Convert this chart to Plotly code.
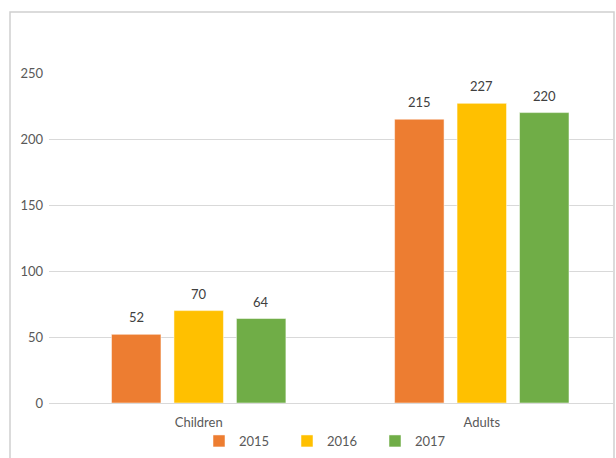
import plotly.graph_objects as go

categories = ["Children", "Adults"]
years = ["2015", "2016", "2017"]
values_2015 = [52, 215]
values_2016 = [70, 227]
values_2017 = [64, 220]
colors = ["#ED7D31", "#FFC000", "#70AD47"]
y_ticks = [0, 50, 100, 150, 200, 250]

series = [values_2015, values_2016, values_2017]

W, H = 616, 458
ml, mr, mt, mb = 49, 616 - 613, 73, 458 - 403
pw, ph = W - ml - mr, H - mt - mb
x_range = [-0.5288, 1.4635]
bargap, bargroupgap = 0.338, 0.208
unit_px = pw / (x_range[1] - x_range[0])
slot_px = unit_px * (1 - bargap) / len(years)

def px(x):
    return (x - ml) / pw

def py(y):
    return (H - mb - y) / ph

fig = go.Figure()
annotations = []
for i, (name, vals, c) in enumerate(zip(years, series, colors)):
    fig.add_trace(go.Bar(
        x=categories, y=vals, name=name,
        marker=dict(color=c, line=dict(color="white", width=0.5)),
    ))
    for cat, v in zip(categories, vals):
        annotations.append(dict(
            x=cat, y=v, xref="x", yref="y", text=str(v), showarrow=False,
            xshift=(i - 1) * slot_px, yshift=17, yanchor="middle",
            font=dict(size=13, color="#404040"),
        ))

fig.update_layout(
    width=W, height=H,
    margin=dict(l=ml, r=mr, t=mt, b=mb, pad=0, autoexpand=False),
    paper_bgcolor="white", plot_bgcolor="white",
    barmode="group", bargap=bargap, bargroupgap=bargroupgap,
    font=dict(family="Lato, Open Sans, sans-serif", size=13, color="#595959"),
    showlegend=True,
    legend=dict(orientation="h", x=0.5, xanchor="center",
                yref="container", y=(H - 441) / H, yanchor="middle",
                bgcolor="rgba(0,0,0,0)",
                font=dict(size=13, color="#595959"), itemwidth=30, traceorder="normal",
                entrywidth=43),
    xaxis=dict(range=x_range, showgrid=False, showline=False, zeroline=False,
               ticks="", ticklabelstandoff=10, tickfont=dict(size=13, color="#595959")),
    yaxis=dict(range=[0, 250], tickvals=y_ticks, showgrid=True, gridcolor="#D9D9D9",
               gridwidth=1, zeroline=True, zerolinecolor="#D9D9D9", zerolinewidth=1,
               showline=False, ticks="", ticklabelstandoff=5,
               tickfont=dict(size=13, color="#595959")),
    annotations=annotations,
    shapes=[dict(type="rect", xref="paper", yref="paper",
                 x0=px(10), x1=px(614), y0=py(470), y1=py(12),
                 line=dict(color="#D0D0D0", width=1.5), fillcolor="rgba(0,0,0,0)",
                 layer="below")],
)

fig.write_html(
    "out.html",
    config={"displayModeBar": False},
    post_script="document.body.style.margin='0';document.documentElement.style.overflow='hidden';document.body.style.overflow='hidden';",
)
